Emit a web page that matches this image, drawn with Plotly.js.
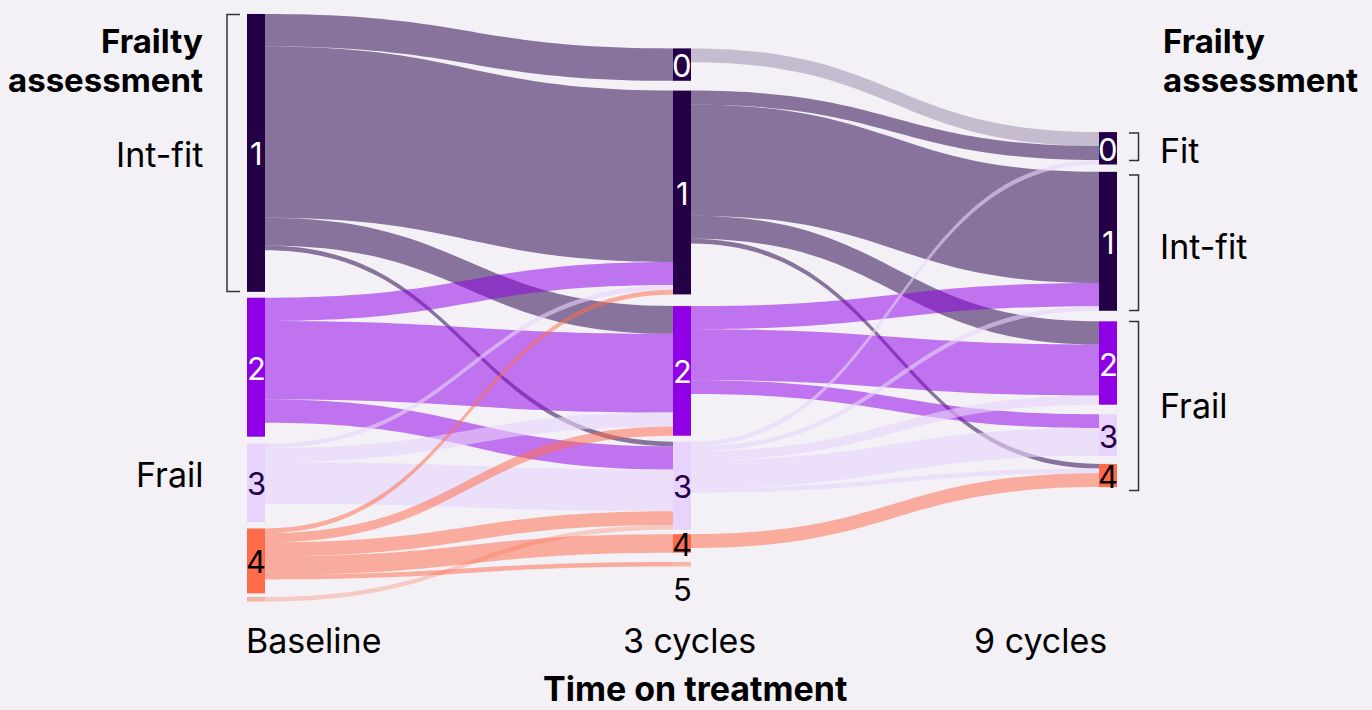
<!DOCTYPE html>
<html><head><meta charset="utf-8">
<script src="https://cdn.plot.ly/plotly-3.0.1.min.js"></script>
<style>html,body{margin:0;padding:0;background:#f3f1f6;}#chart{width:1372px;height:710px;}</style>
</head><body><div id="chart"></div>
<script>
// ---------------- data ----------------
const stages = ['Baseline', '3 cycles', '9 cycles'];
const axisTitle = 'Time on treatment';
const legendTitle = ['Frailty', 'assessment'];
// nodes: frailty score at each time point (last node collects patients who left the study)
const nodeScore = [1, 2, 3, 4, 5,   0, 1, 2, 3, 4, 5,   0, 1, 2, 3, 4,   null];
const nodeStage = [0, 0, 0, 0, 0,   1, 1, 1, 1, 1, 1,   2, 2, 2, 2, 2,   1];
const nodeLabels = ['1','2','3','4','5','0','1','2','3','4','5','0','1','2','3','4','Discontinued'];
// links (patients)
const linkSource = [0,0,0,0,0,  1,1,1,1,  2,2,2,2,  3,3,3,3,3,3,  4,
                    5,  6,6,6,6,  7,7,7,  8,8,8,8,8,  9];
const linkTarget = [5,6,7,8,16, 6,7,8,16, 6,7,8,16, 6,7,8,9,10,16, 8,
                    11, 11,12,13,15, 12,13,14, 11,12,13,14,15, 15];
const linkValue  = [7,37,6,1,9, 5,17,5,3, 1,3,9,4,  1,2,3,4,1,3,   1,
                    3,  3,24,5,1,   5,11,3,  1,1,2,6,1,   3];
// frailty groups (score ranges)
const groupLabels = ['Fit', 'Int-fit', 'Frail'];

// ---------------- layout / style ----------------
const W = 1372, H = 710, T = 14, PH = 585, B = H - T - PH;
const stageCX = [256, 682, 1108];
const nodeCY = [152.9, 367.2, 482.9, 560.9, 599.3,
                64.6, 192.5, 370.9, 485.7, 543.4, 564.2,
                148.3, 241.3, 363, 435, 475.5,
                700];
const nodeX = nodeStage.map(s => stageCX[s] / W);
const nodeY = nodeCY.map(y => (y - T) / PH);
const scoreColor = {0:'#240046',1:'#240046',2:'#8f00e6',3:'#e7d3fb',4:'#ff6c4a',5:'#f5b8a8'};
const linkColorOf = {0:'rgba(36,0,70,0.22)',1:'rgba(36,0,70,0.52)',2:'rgba(143,0,230,0.52)',
                     3:'rgba(231,211,251,0.6)',4:'rgba(255,108,74,0.52)',5:'rgba(255,108,74,0.3)'};
const labelColor = {0:'#ffffff',1:'#ffffff',2:'#ffffff',3:'#240046',4:'#000000',5:'#000000'};
const nodeColors = nodeScore.map(s => s === null ? 'rgba(0,0,0,0)' : scoreColor[s]);
const linkColors = linkSource.map((s, i) =>
  nodeScore[linkTarget[i]] === null ? 'rgba(0,0,0,0)' : linkColorOf[nodeScore[s]]);

const FONT = 'Inter, "Noto Sans", sans-serif';
const REG = 34, BOLD = 33;
const px = x => x / W;
const py = y => 1 - (y - T) / PH;

const annotations = [];
function txt(text, x, y, opts) {
  annotations.push(Object.assign({text, x: px(x), y: py(y), xref:'paper', yref:'paper',
    showarrow:false, xanchor:'center', yanchor:'middle', borderpad:0,
    font:{family:FONT, size:REG, color:'#000'}}, opts || {}));
}
// node number labels
nodeLabels.forEach((lab, i) => {
  const s = nodeScore[i];
  if (s === null) return;
  if (nodeStage[i] === 0 && s === 5) return;   // too small to label at baseline
  let y = nodeCY[i] + 1;
  if (s === 5) y = nodeCY[i] + 25;             // label below the tiny node
  txt(lab, stageCX[nodeStage[i]], y, {font:{family:FONT, size:31, color:labelColor[s]}});
});
// stage labels
txt(stages[0], 245, 640, {xanchor:'left'});
txt(stages[1], 689, 640);
txt(stages[2], 1108, 640, {xanchor:'right'});
txt('<b>' + axisTitle + '</b>', 695, 710, {yanchor:'bottom', font:{family:FONT, size:34, color:'#000'}});
// left legend
const bfont = {family:FONT, size:BOLD, color:'#000'};
txt('<b>' + legendTitle[0] + '</b>', 204, 41, {xanchor:'right', font:bfont});
txt('<b>' + legendTitle[1] + '</b>', 204, 80, {xanchor:'right', font:bfont});
txt(groupLabels[1], 204, 154, {xanchor:'right'});
txt(groupLabels[2], 204, 474, {xanchor:'right'});
// right legend
txt('<b>' + legendTitle[0] + '</b>', 1162, 41, {xanchor:'left', font:bfont});
txt('<b>' + legendTitle[1] + '</b>', 1162, 80, {xanchor:'left', font:bfont});
txt(groupLabels[0], 1159, 150, {xanchor:'left'});
txt(groupLabels[1], 1159, 247, {xanchor:'left'});
txt(groupLabels[2], 1159, 405, {xanchor:'left'});

// brackets
function bracket(xv, xt, y0, y1) {
  return {type:'path', xref:'paper', yref:'paper',
    path:`M ${px(xt)},${py(y0)} L ${px(xv)},${py(y0)} L ${px(xv)},${py(y1)} L ${px(xt)},${py(y1)}`,
    line:{color:'#333333', width:1.5}};
}
const shapes = [
  bracket(227, 240, 14.5, 291.5),
  bracket(1138.5, 1129, 133, 160.5),
  bracket(1138.5, 1129, 175, 310.5),
  bracket(1138.5, 1129, 321.5, 490.5)
];

const trace = {
  type:'sankey', orientation:'h', arrangement:'fixed',
  domain:{x:[0,1], y:[0,1]},
  node:{label: nodeLabels.map(() => ''), x: nodeX, y: nodeY, pad:5, thickness:18,
        color: nodeColors, line:{width:0}, hoverinfo:'none'},
  link:{source: linkSource, target: linkTarget, value: linkValue, color: linkColors, hoverinfo:'none'}
};
const layout = {
  width: W, height: H, margin:{l:0, r:0, t:T, b:B, pad:0},
  paper_bgcolor:'#f3f1f6', plot_bgcolor:'#f3f1f6',
  font:{family:FONT}, annotations, shapes, showlegend:false
};
Plotly.newPlot('chart', [trace], layout, {displayModeBar:false, staticPlot:true});
</script></body></html>
